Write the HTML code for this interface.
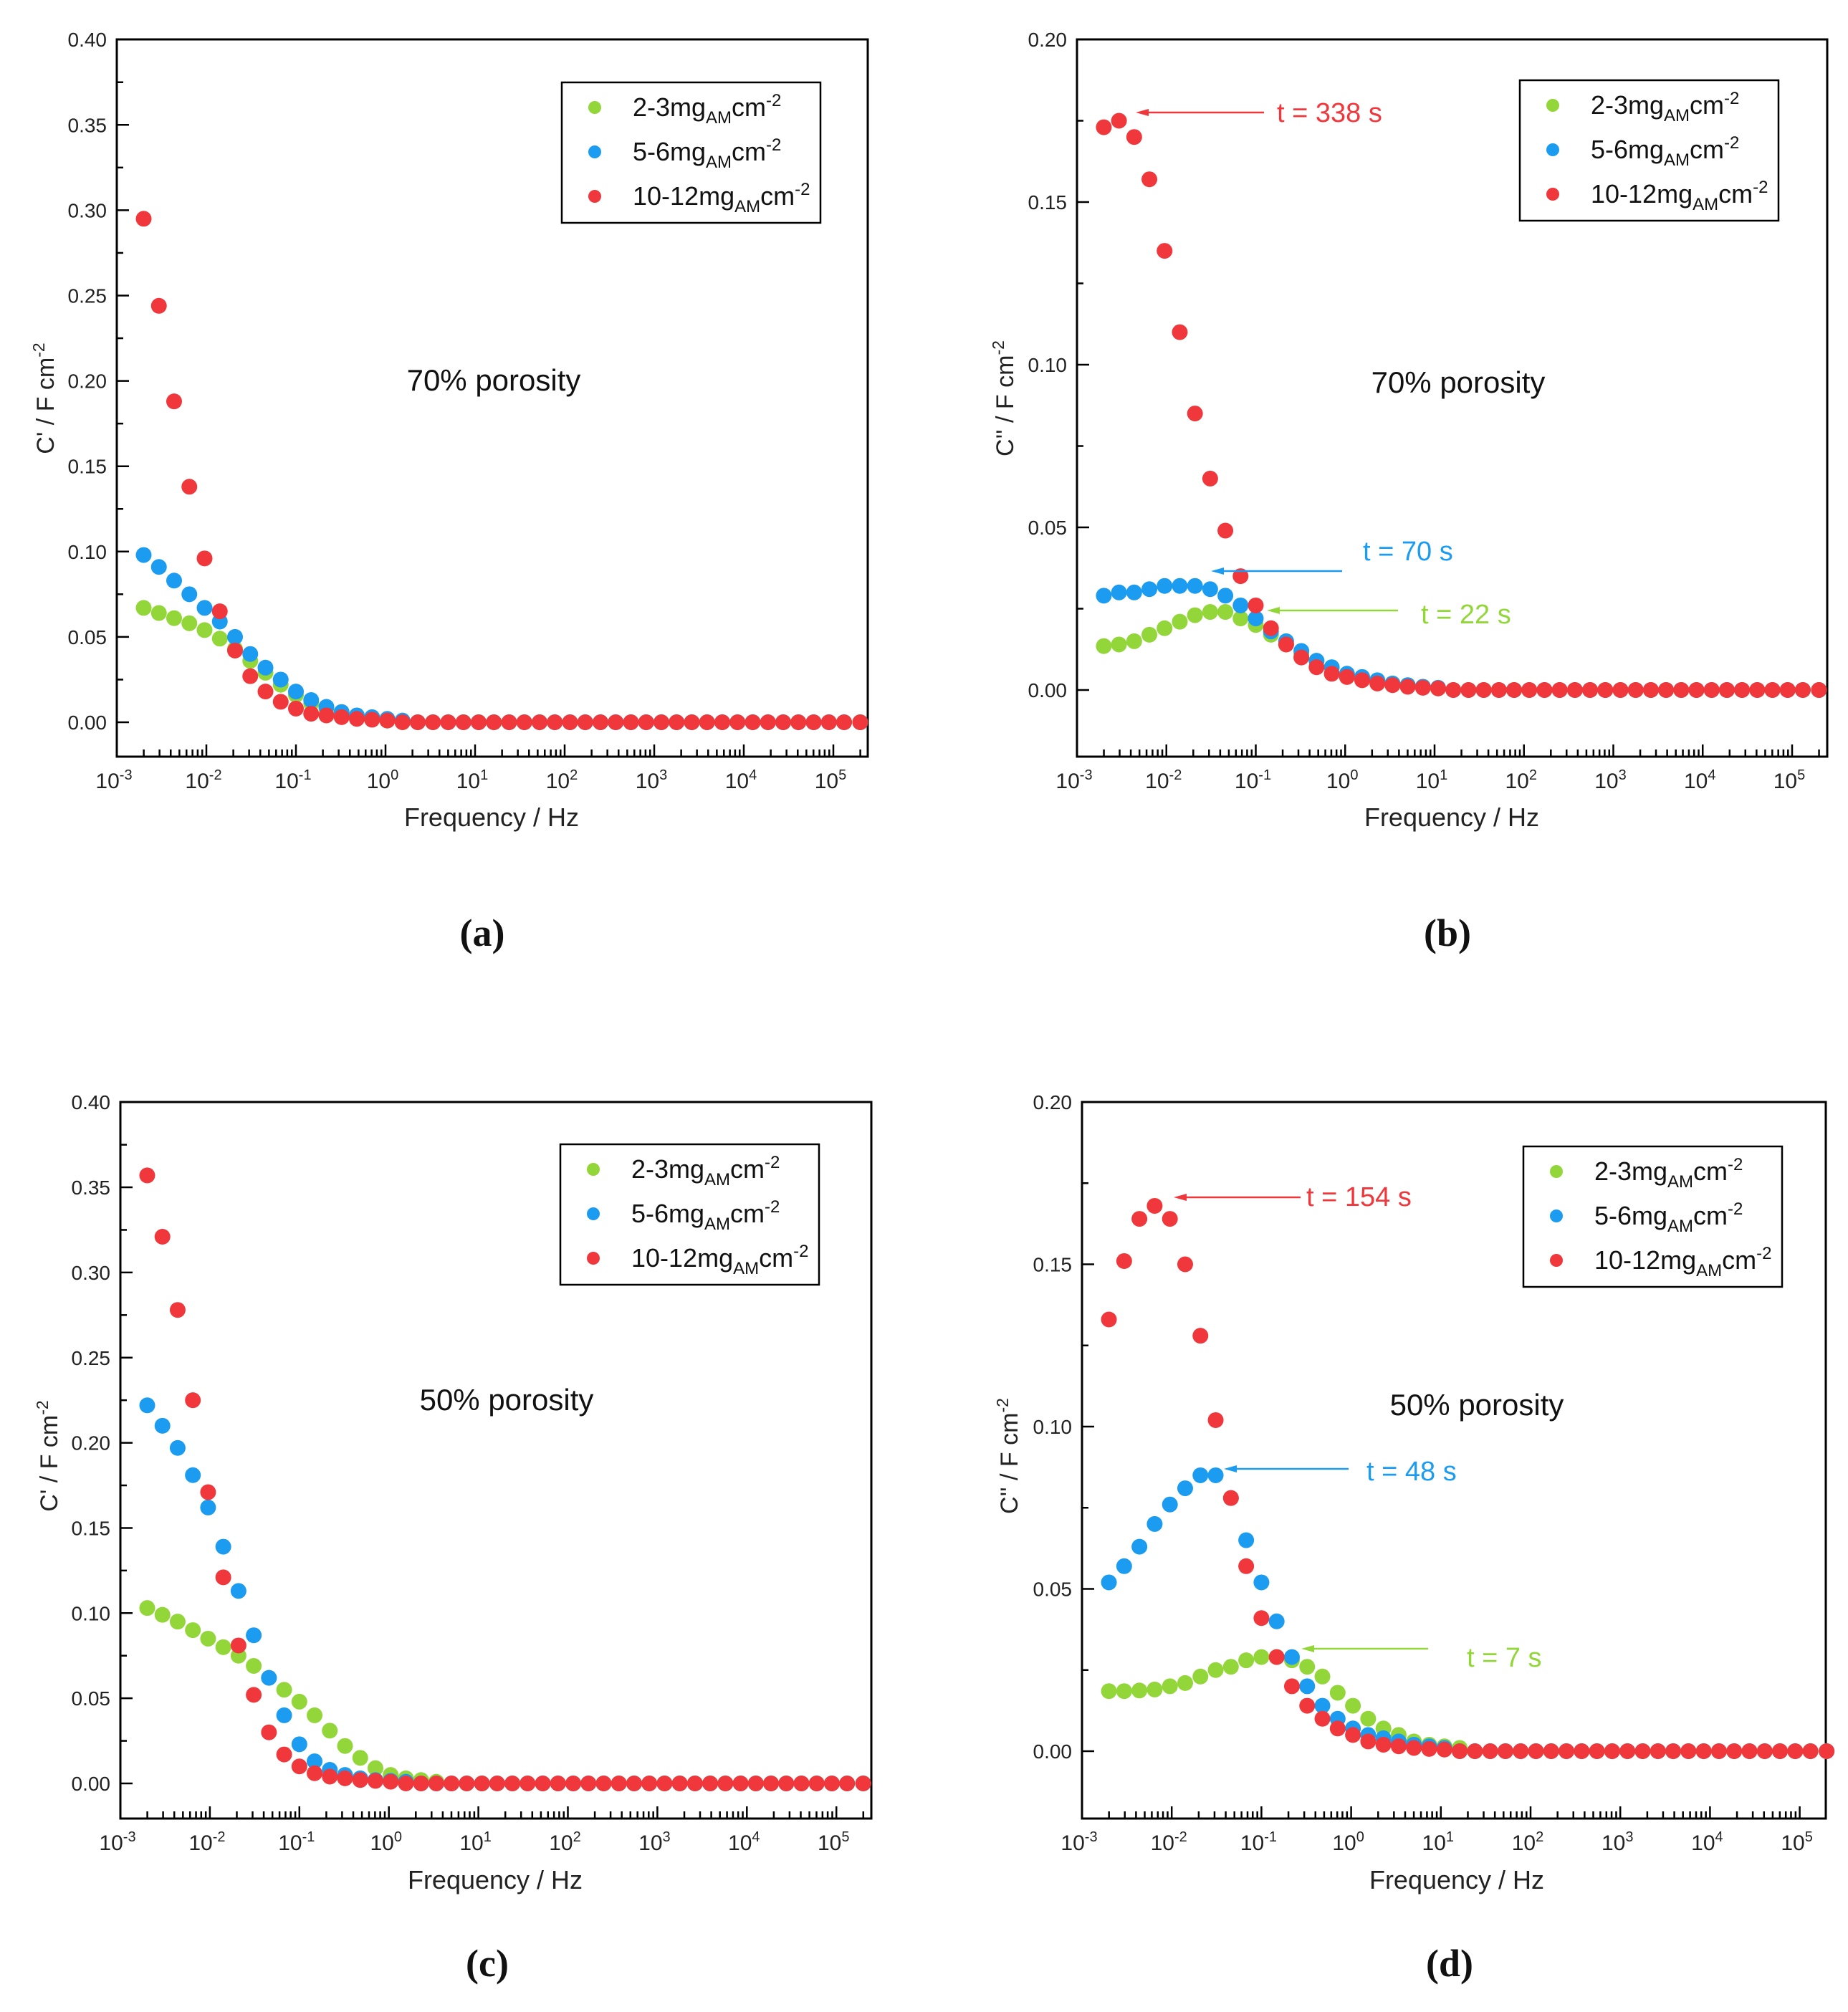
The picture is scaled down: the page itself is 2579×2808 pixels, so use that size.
<!DOCTYPE html>
<html><head><meta charset="utf-8">
<style>
html,body{margin:0;padding:0;background:#fff;}
svg{display:block;font-family:"Liberation Sans",sans-serif;}
</style></head>
<body>
<svg id="fig" width="2579" height="2808" viewBox="0 0 2579 2808" xmlns="http://www.w3.org/2000/svg">
<rect width="2579" height="2808" fill="#fff"/>
</svg>
<script>
// log10 frequency of each measured point (Hz)
const logFreq = [-2.70,-2.53,-2.36,-2.19,-2.02,-1.85,-1.68,-1.51,-1.34,-1.17,-1.00,-0.83,-0.66,-0.49,-0.32,-0.15,0.02,0.19,0.36,0.53,0.70,0.87,1.04,1.21,1.38,1.55,1.72,1.89,2.06,2.23,2.40,2.57,2.74,2.91,3.08,3.25,3.42,3.59,3.76,3.93,4.10,4.27,4.44,4.61,4.78,4.95,5.12,5.30];
const seriesNames = ["2-3mg","5-6mg","10-12mg"];
const xTickExp = [-3,-2,-1,0,1,2,3,4,5];
const yTicksA = [0,0.05,0.10,0.15,0.20,0.25,0.30,0.35,0.40];
const yTicksB = [0,0.05,0.10,0.15,0.20];

const greenA = [0.067,0.064,0.061,0.058,0.054,0.049,0.043,0.036,0.029,0.022,0.016,0.011,0.008,0.005,0.003,0.002,0.001,0,0,0,0,0,0,0,0,0,0,0,0,0,0,0,0,0,0,0,0,0,0,0,0,0,0,0,0,0,0,0];
const blueA  = [0.098,0.091,0.083,0.075,0.067,0.059,0.050,0.040,0.032,0.025,0.018,0.013,0.009,0.006,0.004,0.003,0.002,0.001,0,0,0,0,0,0,0,0,0,0,0,0,0,0,0,0,0,0,0,0,0,0,0,0,0,0,0,0,0,0];
const redA   = [0.295,0.244,0.188,0.138,0.096,0.065,0.042,0.027,0.018,0.012,0.008,0.005,0.004,0.003,0.002,0.0015,0.001,0,0,0,0,0,0,0,0,0,0,0,0,0,0,0,0,0,0,0,0,0,0,0,0,0,0,0,0,0,0,0];

const greenB = [0.0135,0.014,0.015,0.017,0.019,0.021,0.023,0.024,0.024,0.022,0.020,0.017,0.014,0.011,0.009,0.007,0.005,0.004,0.003,0.002,0.0015,0.001,0.0005,0,0,0,0,0,0,0,0,0,0,0,0,0,0,0,0,0,0,0,0,0,0,0,0,0];
const blueB  = [0.029,0.030,0.030,0.031,0.032,0.032,0.032,0.031,0.029,0.026,0.022,0.018,0.015,0.012,0.009,0.007,0.005,0.004,0.003,0.002,0.0015,0.001,0.0007,0,0,0,0,0,0,0,0,0,0,0,0,0,0,0,0,0,0,0,0,0,0,0,0,0];
const redB   = [0.173,0.175,0.170,0.157,0.135,0.110,0.085,0.065,0.049,0.035,0.026,0.019,0.014,0.010,0.007,0.005,0.004,0.003,0.002,0.0015,0.001,0.0007,0.0005,0,0,0,0,0,0,0,0,0,0,0,0,0,0,0,0,0,0,0,0,0,0,0,0,0];

const greenC = [0.103,0.099,0.095,0.090,0.085,0.080,0.075,0.069,0.062,0.055,0.048,0.040,0.031,0.022,0.015,0.009,0.005,0.003,0.002,0.001,0,0,0,0,0,0,0,0,0,0,0,0,0,0,0,0,0,0,0,0,0,0,0,0,0,0,0,0];
const blueC  = [0.222,0.210,0.197,0.181,0.162,0.139,0.113,0.087,0.062,0.040,0.023,0.013,0.008,0.005,0.003,0.002,0.0015,0.001,0,0,0,0,0,0,0,0,0,0,0,0,0,0,0,0,0,0,0,0,0,0,0,0,0,0,0,0,0,0];
const redC   = [0.357,0.321,0.278,0.225,0.171,0.121,0.081,0.052,0.030,0.017,0.010,0.006,0.004,0.003,0.002,0.0015,0.001,0,0,0,0,0,0,0,0,0,0,0,0,0,0,0,0,0,0,0,0,0,0,0,0,0,0,0,0,0,0,0];

const greenD = [0.0185,0.0185,0.0187,0.019,0.020,0.021,0.023,0.025,0.026,0.028,0.029,0.029,0.028,0.026,0.023,0.018,0.014,0.010,0.007,0.005,0.003,0.002,0.0015,0.001,0,0,0,0,0,0,0,0,0,0,0,0,0,0,0,0,0,0,0,0,0,0,0,0];
const blueD  = [0.052,0.057,0.063,0.070,0.076,0.081,0.085,0.085,0.078,0.065,0.052,0.040,0.029,0.020,0.014,0.010,0.007,0.005,0.004,0.003,0.002,0.0015,0.001,0,0,0,0,0,0,0,0,0,0,0,0,0,0,0,0,0,0,0,0,0,0,0,0,0];
const redD   = [0.133,0.151,0.164,0.168,0.164,0.150,0.128,0.102,0.078,0.057,0.041,0.029,0.020,0.014,0.010,0.007,0.005,0.003,0.002,0.0015,0.001,0.0007,0.0005,0,0,0,0,0,0,0,0,0,0,0,0,0,0,0,0,0,0,0,0,0,0,0,0,0];

const NS = "http://www.w3.org/2000/svg";
const svg = document.getElementById("fig");
const COLORS = ["#93d63a","#1b9cf0","#f0373c"];

function mk(tag, attrs, parent, text){
  const e = document.createElementNS(NS, tag);
  for (const k in attrs) e.setAttribute(k, attrs[k]);
  if (text !== undefined) e.textContent = text;
  (parent || svg).appendChild(e);
  return e;
}

function panel(cfg){
  const g = mk("g", {});
  
  
  const xPos = v => cfg.L + (v + 3) * cfg.dec;
  const yPos = v => cfg.y0 - v * cfg.per;
  const fr = mk("rect", {x:cfg.L, y:cfg.T, width:cfg.R-cfg.L, height:cfg.B-cfg.T, fill:"none", stroke:"#000", "stroke-width":3}, g);
  
  
  for (let d = -3; d <= 5; d++){
    for (let m = 1; m <= 9; m++){
      const lv = d + Math.log10(m);
      const x = xPos(lv);
      if (x > cfg.R - 1 || x < cfg.L) continue;
      const len = m === 1 ? 17 : 10;
      mk("line", {x1:x, x2:x, y1:cfg.B, y2:cfg.B-len, stroke:"#000", "stroke-width":2.5}, g);
    }
  }
  xTickExp.forEach(e => {
    const t = mk("text", {x:xPos(e)-4, y:cfg.B+44, "font-size":30, fill:"#222", "text-anchor":"middle"}, g);
    
    
    mk("tspan", {}, t, "10");
    mk("tspan", {dy:-12, "font-size":20}, t, String(e));
  });
  const ticks = cfg.yTicks;
  const step = ticks[1] - ticks[0];
  ticks.forEach((v, i) => {
    const y = yPos(v);
    mk("line", {x1:cfg.L, x2:cfg.L+17, y1:y, y2:y, stroke:"#000", "stroke-width":2.5}, g);
    if (i < ticks.length - 1){
      const ym = yPos(v + step/2);
      mk("line", {x1:cfg.L, x2:cfg.L+9, y1:ym, y2:ym, stroke:"#000", "stroke-width":2.5}, g);
    }
    const t = mk("text", {x:cfg.L-14, y:y+10, "font-size":28, fill:"#222", "text-anchor":"end"}, g, v.toFixed(2));
    
    
  });
  const xt = mk("text", {x:cfg.xTitle[0], y:cfg.xTitle[1], "font-size":36, fill:"#222", "text-anchor":"middle"}, g, "Frequency / Hz");
  
  
  const yt = mk("text", {x:0, y:0, "font-size":34, fill:"#222", "text-anchor":"middle", transform:"translate("+cfg.yTitle[0]+","+cfg.yTitle[1]+") rotate(-90)"}, g);
  
  
  mk("tspan", {}, yt, cfg.yLabel + " / F cm");
  mk("tspan", {dy:-13, "font-size":23}, yt, "-2");
  const pl = mk("text", {x:cfg.por[0], y:cfg.por[1], "font-size":42, fill:"#111", "text-anchor":"middle"}, g, cfg.porText);
  
  
  cfg.series.forEach((arr, s) => {
    const sg = mk("g", {fill:COLORS[s]}, g);
    
    
    arr.forEach((v, i) => {
      const c = mk("circle", {cx:xPos(logFreq[i]), cy:yPos(v), r:11}, sg);
      
      
    });
  });
  (cfg.ann || []).forEach(a => {
    const ag = mk("g", {}, g);
    
    
    mk("line", {x1:a.x1, x2:a.x2+14, y1:a.y, y2:a.y, stroke:COLORS[a.c], "stroke-width":2.5}, ag);
    mk("polygon", {points:(a.x2)+","+a.y+" "+(a.x2+18)+","+(a.y-5)+" "+(a.x2+18)+","+(a.y+5), fill:COLORS[a.c]}, ag);
    mk("text", {x:a.tx, y:a.ty, "font-size":38, fill:COLORS[a.c]}, ag, a.text);
  });
  const lg = mk("g", {}, g);
  
  
  const [lx, ly] = cfg.leg;
  mk("rect", {x:lx, y:ly, width:361, height:196, fill:"#fff", stroke:"#000", "stroke-width":2.5}, lg);
  seriesNames.forEach((n, i) => {
    const cy = ly + 35 + i*62;
    const le = mk("g", {}, lg);
    
    
    mk("circle", {cx:lx+46, cy:cy, r:9, fill:COLORS[i]}, le);
    const t = mk("text", {x:lx+99, y:cy+12, "font-size":36, fill:"#111"}, le);
    mk("tspan", {}, t, n);
    mk("tspan", {dy:10, "font-size":24}, t, "AM");
    mk("tspan", {dy:-10}, t, "cm");
    mk("tspan", {dy:-14, "font-size":24}, t, "-2");
  });
  const cap = mk("text", {x:cfg.cap[0], y:cfg.cap[1], "font-size":54, fill:"#111", "text-anchor":"middle", "font-family":"Liberation Serif, serif", "font-weight":"bold"}, g, "(" + cfg.id + ")");
  
  
}

panel({id:"a", L:163, R:1211, T:55, B:1056, dec:125, y0:1008, per:2382, yTicks:yTicksA,
  series:[greenA, blueA, redA], yLabel:"C'", xTitle:[686,1153], yTitle:[75,556],
  por:[689,545], porText:"70% porosity", leg:[784,115], cap:[673,1320]});
panel({id:"b", L:1503, R:2550, T:55, B:1056, dec:124.75, y0:963, per:4540, yTicks:yTicksB,
  series:[greenB, blueB, redB], yLabel:"C''", xTitle:[2026,1153], yTitle:[1414,556],
  por:[2035,548], porText:"70% porosity", leg:[2121,112], cap:[2020,1320],
  ann:[{c:2, x1:1764, x2:1585, y:157, tx:1782, ty:170, text:"t = 338 s"},
       {c:1, x1:1873, x2:1690, y:797, tx:1902, ty:782, text:"t = 70 s"},
       {c:0, x1:1951, x2:1768, y:852, tx:1983, ty:870, text:"t = 22 s"}]});
panel({id:"c", L:168, R:1216, T:1538, B:2538, dec:124.9, y0:2489, per:2377, yTicks:yTicksA,
  series:[greenC, blueC, redC], yLabel:"C'", xTitle:[691,2636], yTitle:[80,2032],
  por:[707,1968], porText:"50% porosity", leg:[782,1597], cap:[680,2758]});
panel({id:"d", L:1510, R:2548, T:1538, B:2538, dec:125.2, y0:2444, per:4530, yTicks:yTicksB,
  series:[greenD, blueD, redD], yLabel:"C''", xTitle:[2033,2636], yTitle:[1420,2032],
  por:[2061,1975], porText:"50% porosity", leg:[2126,1600], cap:[2023,2758],
  ann:[{c:2, x1:1815, x2:1638, y:1671, tx:1823, ty:1683, text:"t = 154 s"},
       {c:1, x1:1882, x2:1708, y:2050, tx:1907, ty:2066, text:"t = 48 s"},
       {c:0, x1:1993, x2:1816, y:2301, tx:2047, ty:2326, text:"t = 7 s"}]});
</script>
</body></html>
